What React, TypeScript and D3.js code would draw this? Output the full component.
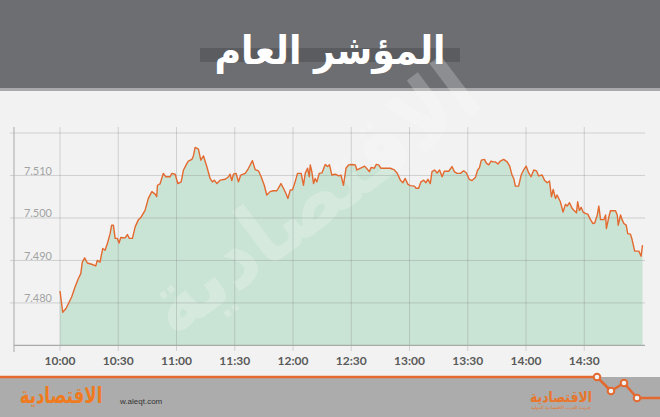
import React from "react";
import * as d3 from "d3";

const W = 660;
const H = 417;

const title = "المؤشر العام";
const brand = "الاقتصادية";

// minutes after 10:00
const times = [
  0, 1.4, 3.1, 6.0, 7.7, 9.4, 10.7, 11.5, 12.7, 14.1, 16.3, 18.4, 19.2, 20.6, 22.0, 23.2, 24.4, 25.8, 26.6, 27.5,
  28.4, 29.5, 30.4, 31.3, 33.5, 34.7, 35.7, 37.3, 38.7, 40.4, 41.6, 43.8, 45.5, 47.3, 49.0, 49.8, 50.2, 51.5, 53.2, 54.5,
  56.7, 57.6, 59.3, 60.7, 62.4, 63.6, 65.3, 66.1, 67.9, 68.7, 69.6, 71.3, 72.5, 73.9, 75.6, 77.3, 78.5, 79.5, 80.8, 82.5,
  85.1, 86.8, 87.6, 88.5, 89.3, 90.7, 91.9, 93.1, 95.4, 97.1, 99.1, 100.5, 102.2, 103.6, 105.2, 106.5, 108.2, 109.9, 111.7, 113.8,
  115.1, 116.3, 117.4, 118.6, 119.7, 121.1, 122.3, 124.2, 125.4, 126.3, 127.5, 128.4, 128.9, 129.7, 130.6, 131.4, 132.3, 133.5, 134.9, 136.6,
  137.8, 138.8, 140.0, 141.8, 143.5, 144.7, 146.0, 147.3, 148.6, 150.4, 152.1, 152.9, 154.6, 156.9, 158.4, 159.3, 160.3, 161.9, 162.9, 164.1,
  165.3, 170.1, 172.2, 173.6, 175.3, 176.6, 177.8, 179.2, 180.4, 182.5, 183.4, 184.7, 185.9, 187.3, 188.5, 189.5, 190.7, 191.6, 192.9, 194.2,
  195.5, 196.8, 197.9, 200.2, 201.9, 203.1, 204.5, 206.2, 207.9, 209.3, 210.8, 212.2, 213.9, 215.1, 216.0, 217.0, 218.6, 219.6, 220.8, 222.0,
  223.0, 224.2, 225.6, 226.8, 228.5, 230.3, 231.6, 232.8, 233.7, 234.5, 236.2, 237.5, 238.8, 240.1, 241.4, 242.6, 244.0, 245.4, 246.5, 248.3,
  249.5, 250.9, 252.1, 253.1, 254.0, 255.2, 256.0, 257.7, 259.1, 260.3, 261.2, 262.4, 263.8, 264.9, 266.0, 266.6, 267.5, 268.4, 269.4, 270.6,
  271.8, 273.2, 274.4, 275.4, 276.7, 277.5, 278.4, 280.1, 281.0, 281.4, 282.6, 283.5, 286.1, 287.0, 287.5, 288.7, 289.5, 290.4, 291.6, 292.4,
  293.8, 294.7, 296.0, 298.1, 299.3, 300.0,
];

const values = [
  7.4828, 7.4778, 7.4787, 7.4814, 7.4837, 7.4857, 7.4869, 7.4896, 7.4906, 7.4894, 7.4891, 7.4887, 7.49, 7.4896, 7.4928, 7.4924, 7.494, 7.4963, 7.4983, 7.4983,
  7.4952, 7.4952, 7.4941, 7.4954, 7.4953, 7.4961, 7.4952, 7.4952, 7.4979, 7.4996, 7.5001, 7.5018, 7.5046, 7.5062, 7.5056, 7.505, 7.5077, 7.508, 7.5105, 7.5097,
  7.5097, 7.5105, 7.5103, 7.5081, 7.5085, 7.5113, 7.5128, 7.5134, 7.5138, 7.5146, 7.5166, 7.5162, 7.5136, 7.5146, 7.5121, 7.5093, 7.5085, 7.5089, 7.5081, 7.5089,
  7.5091, 7.5097, 7.5103, 7.5088, 7.5103, 7.5105, 7.5085, 7.5101, 7.5105, 7.5117, 7.5135, 7.5114, 7.5111, 7.5097, 7.5077, 7.5054, 7.5062, 7.5064, 7.5064, 7.5081,
  7.507, 7.5058, 7.5046, 7.5066, 7.5066, 7.5085, 7.5105, 7.5105, 7.5077, 7.5105, 7.5117, 7.5097, 7.5125, 7.5109, 7.5081, 7.5093, 7.5085, 7.5105, 7.5106, 7.5126,
  7.5121, 7.5125, 7.5101, 7.5103, 7.5099, 7.5101, 7.5077, 7.5117, 7.5125, 7.5126, 7.5125, 7.5113, 7.5117, 7.5122, 7.5114, 7.5109, 7.5119, 7.5117, 7.5126, 7.5125,
  7.5117, 7.5117, 7.5113, 7.5106, 7.5089, 7.5083, 7.5093, 7.5079, 7.5076, 7.5075, 7.507, 7.507, 7.5085, 7.5089, 7.5083, 7.5091, 7.5081, 7.5109, 7.5113, 7.5106,
  7.5113, 7.5097, 7.511, 7.511, 7.5121, 7.5109, 7.5105, 7.5105, 7.5111, 7.5106, 7.5091, 7.5088, 7.5095, 7.5113, 7.5118, 7.5136, 7.5138, 7.5129, 7.5125, 7.5134,
  7.5132, 7.5132, 7.5127, 7.5134, 7.5138, 7.5132, 7.5122, 7.5101, 7.5093, 7.5075, 7.5075, 7.5101, 7.5113, 7.5122, 7.5106, 7.5097, 7.5113, 7.5111, 7.5099, 7.5101,
  7.5089, 7.5083, 7.5087, 7.505, 7.5067, 7.5046, 7.5054, 7.5038, 7.5014, 7.5032, 7.5028, 7.5036, 7.5022, 7.5017, 7.5012, 7.5038, 7.5018, 7.5025, 7.5014, 7.5011,
  7.5009, 7.4996, 7.4987, 7.4988, 7.5007, 7.5028, 7.4996, 7.4996, 7.5007, 7.4975, 7.5001, 7.5017, 7.5017, 7.5007, 7.4983, 7.5007, 7.4996, 7.4987, 7.4983, 7.4963,
  7.4962, 7.4948, 7.4922, 7.4922, 7.491, 7.4936,
];

const yTicks = [7.48, 7.49, 7.5, 7.51];
const yGrid = [7.48, 7.49, 7.5, 7.51, 7.52];
const xTickMinutes = [0, 30, 60, 90, 120, 150, 180, 210, 240, 270];
const xTickLabels = ["10:00", "10:30", "11:00", "11:30", "12:00", "12:30", "13:00", "13:30", "14:00", "14:30"];

export default function App() {
  const x = d3.scaleLinear().domain([0, 300]).range([60, 642.5]);
  const y = d3.scaleLinear().domain([7.47, 7.52]).range([345.4, 133]);
  const data = times.map((t, i) => ({ t, v: values[i] }));

  const area = d3
    .area<{ t: number; v: number }>()
    .x((d) => x(d.t))
    .y0(y(7.47))
    .y1((d) => y(d.v));
  const line = d3
    .line<{ t: number; v: number }>()
    .x((d) => x(d.t))
    .y((d) => y(d.v));

  const axisFont = "Lato, 'Open Sans', sans-serif";
  const arFont = "'DejaVu Sans', sans-serif";
  const orange = "#e3692f";

  const zig = [
    [0, 377],
    [597, 377],
    [611, 391],
    [624, 383],
    [637, 398],
    [660, 398],
  ];

  return (
    <svg width={W} height={H} style={{ position: "absolute", left: 0, top: 0, display: "block" }}>
      <rect x={0} y={0} width={W} height={H} fill="#f2f2f2" />
      {/* header */}
      <rect x={0} y={0} width={W} height={88} fill="#6d6e72" />
      <rect x={0} y={88} width={W} height={3} fill="#a9a9ab" />
      <rect x={200} y={48} width={260} height={14} fill="#5b5c60" />
      <text
        x={330}
        y={64}
        textAnchor="middle"
        fontFamily={arFont}
        fontWeight="bold"
        fontSize={40}
        fill="#ffffff"
        textLength={231}
        lengthAdjust="spacingAndGlyphs"
      >
        {title}
      </text>

      {/* area */}
      <path d={area(data) || ""} fill="#c9e4d4" />

      {/* watermark */}
      <text
        transform="translate(330,222) rotate(-37)"
        textAnchor="middle"
        fontFamily={arFont}
        fontWeight="bold"
        fontSize={88}
        fill="#ffffff"
        opacity={0.22}
        textLength={390}
        lengthAdjust="spacingAndGlyphs"
      >
        {brand}
      </text>

      {/* grid */}
      {yGrid.map((v) => (
        <line key={"hg" + v} x1={10} x2={645} y1={y(v)} y2={y(v)} stroke="#808080" strokeOpacity={0.3} strokeWidth={1} />
      ))}
      {xTickMinutes.map((m) => (
        <line key={"vg" + m} x1={x(m)} x2={x(m)} y1={127} y2={351} stroke="#808080" strokeOpacity={0.3} strokeWidth={1} />
      ))}
      <line x1={14} x2={14} y1={127} y2={352} stroke="#b5b5b5" strokeWidth={1.2} />
      <line x1={14} x2={645} y1={y(7.47)} y2={y(7.47)} stroke="#a8aaa8" strokeWidth={1.2} />

      {/* line */}
      <path d={line(data) || ""} fill="none" stroke={orange} strokeWidth={1.4} strokeLinejoin="round" />

      {/* y labels */}
      {yTicks.map((v) => (
        <text key={"yl" + v} x={52} y={y(v) - 0.5} textAnchor="end" fontFamily={axisFont} fontSize={11} fill="#a3a3a3">
          {d3.format(",.3f")(v)}
        </text>
      ))}
      {/* x labels */}
      {xTickMinutes.map((m, i) => (
        <text key={"xl" + m} x={x(m)} y={365} textAnchor="middle" fontFamily={axisFont} fontWeight="bold" fontSize={12} fill="#5a5a5a">
          {xTickLabels[i]}
        </text>
      ))}

      {/* footer */}
      <rect x={0} y={377} width={W} height={40} fill="#acacac" />
      <polyline points={zig.map((p) => p.join(",")).join(" ")} fill="none" stroke={orange} strokeWidth={2.5} strokeLinejoin="round" />
      {zig.slice(1, 5).map((p, i) => (
        <circle key={"c" + i} cx={p[0]} cy={p[1]} r={3.3} fill="#f2f2f2" stroke={orange} strokeWidth={2} />
      ))}
      <text
        transform="translate(61,403) scale(1,1.35)"
        textAnchor="middle"
        fontFamily={arFont}
        fontWeight="bold"
        fontSize={16.5}
        fill="#f07a1e"
      >
        {brand}
      </text>
      <text x={120} y={404} fontFamily="'Liberation Sans', sans-serif" fontSize={8} fill="#333333">
        w.aleqt.com
      </text>
      <text x={561} y={402} textAnchor="middle" fontFamily={arFont} fontWeight="bold" fontSize={15} fill="#e8752a" textLength={62} lengthAdjust="spacingAndGlyphs">
        {brand}
      </text>
      <text x={561} y={408.5} textAnchor="middle" fontFamily={arFont} fontSize={4.5} fill="#e8752a" textLength={60} lengthAdjust="spacingAndGlyphs">
        جريدة العرب الاقتصادية الدولية
      </text>
    </svg>
  );
}
